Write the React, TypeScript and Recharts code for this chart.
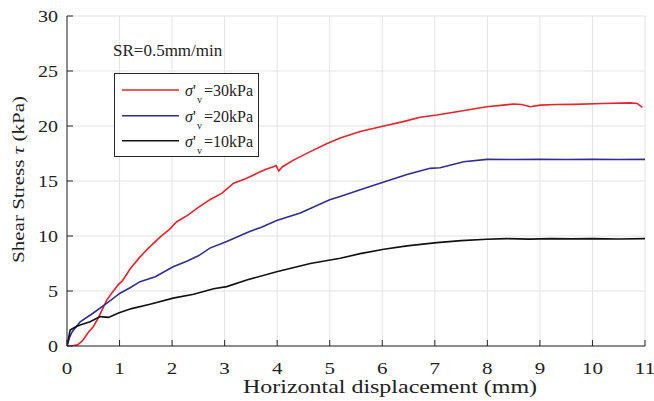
import { LineChart, Line, XAxis, YAxis, CartesianGrid } from "recharts";

// horizontal displacement (mm) vs shear stress (kPa)
const sigma30 = [
  [0, 0], [0.1, 0.02], [0.2, 0.1], [0.3, 0.5], [0.4, 1.2], [0.5, 1.75], [0.6, 2.6],
  [0.7, 3.6], [0.76, 4.2], [0.85, 4.8], [0.98, 5.6], [1.05, 5.9], [1.2, 7.0],
  [1.39, 8.1], [1.55, 8.9], [1.77, 9.9], [1.95, 10.6], [2.09, 11.3], [2.3, 11.9],
  [2.5, 12.6], [2.72, 13.3], [2.95, 13.9], [3.17, 14.8], [3.4, 15.2], [3.68, 15.85],
  [3.8, 16.1], [3.93, 16.3], [3.98, 16.4], [4.03, 15.9], [4.1, 16.3], [4.31, 16.9],
  [4.6, 17.6], [4.95, 18.4], [5.2, 18.9], [5.58, 19.5], [6.03, 20.0], [6.4, 20.4],
  [6.72, 20.8], [7.04, 21.0], [7.42, 21.3], [7.99, 21.75], [8.3, 21.9], [8.5, 22.0],
  [8.65, 21.95], [8.82, 21.75], [9.01, 21.9], [9.3, 21.95], [9.64, 21.97],
  [10.2, 22.05], [10.72, 22.1], [10.85, 22.05], [10.95, 21.7],
];
const sigma20 = [
  [0, 0], [0.05, 0.8], [0.1, 1.3], [0.25, 2.2], [0.5, 3.0], [0.76, 3.9], [1.01, 4.8],
  [1.2, 5.3], [1.39, 5.85], [1.68, 6.3], [2.02, 7.2], [2.28, 7.7], [2.5, 8.2],
  [2.72, 8.9], [3.04, 9.5], [3.42, 10.3], [3.7, 10.8], [3.99, 11.4], [4.44, 12.1],
  [5.0, 13.3], [5.2, 13.6], [5.58, 14.2], [6.03, 14.9], [6.47, 15.6], [6.91, 16.15],
  [7.1, 16.2], [7.55, 16.75], [7.99, 16.97], [8.5, 16.95], [9, 16.97], [9.5, 16.95],
  [10, 16.97], [10.5, 16.95], [11, 16.97],
];
const sigma10 = [
  [0, 0], [0.06, 1.45], [0.15, 1.7], [0.25, 1.9], [0.44, 2.2], [0.63, 2.67],
  [0.79, 2.6], [0.98, 3.0], [1.23, 3.4], [1.58, 3.8], [2.02, 4.35], [2.41, 4.7],
  [2.79, 5.2], [3.04, 5.4], [3.42, 6.0], [3.99, 6.75], [4.63, 7.5], [5.2, 7.97],
  [5.58, 8.4], [6.03, 8.8], [6.47, 9.1], [7.04, 9.4], [7.5, 9.58], [7.99, 9.7],
  [8.37, 9.76], [8.8, 9.72], [9.2, 9.76], [9.6, 9.74], [10.0, 9.76], [10.5, 9.73],
  [11, 9.76],
];

const xTicks = [0, 1, 2, 3, 4, 5, 6, 7, 8, 9, 10, 11];
const yTicks = [0, 5, 10, 15, 20, 25, 30];

const series = [
  { name: "30kPa", color: "#e8222a", points: sigma30 },
  { name: "20kPa", color: "#2e2e96", points: sigma20 },
  { name: "10kPa", color: "#111111", points: sigma10 },
];

const FONT = "Liberation Serif";
const AXIS = "#262626";
const TEXT = "#222";

const toRows = (pts: number[][]) => pts.map(([x, y]) => ({ x, y }));

// axis text in the figure is drawn wider than plain Times, so stretch it a bit
function XTick(props: any) {
  const s = String(props.payload.value);
  return (
    <text x={props.x} y={props.y} dy={12} textAnchor="middle" fontSize={17} fill={TEXT}
      textLength={s.length * 10.5} lengthAdjust="spacingAndGlyphs" style={{ fontFamily: FONT }}>
      {s}
    </text>
  );
}

function YTick(props: any) {
  const s = String(props.payload.value);
  return (
    <text x={props.x} y={props.y} dy={6} textAnchor="end" fontSize={17} fill={TEXT}
      textLength={s.length * 10} lengthAdjust="spacingAndGlyphs" style={{ fontFamily: FONT }}>
      {s}
    </text>
  );
}

function YTitle(props: any) {
  const vb = props.viewBox || { x: 0, y: 16, width: 67, height: 330 };
  const cx = vb.x + 18;
  const cy = vb.y + vb.height / 2 - 1.5;
  return (
    <text
      x={cx}
      y={cy}
      transform={`rotate(-90, ${cx}, ${cy})`}
      textAnchor="middle"
      dominantBaseline="central"
      fontSize={16}
      fill={TEXT}
      textLength={167}
      lengthAdjust="spacingAndGlyphs"
      style={{ fontFamily: FONT }}
    >
      Shear Stress <tspan fontStyle="italic">τ</tspan> (kPa)
    </text>
  );
}

function XTitle() {
  return (
    <text
      x={390}
      y={393}
      textAnchor="middle"
      fontSize={18}
      fill={TEXT}
      textLength={294}
      lengthAdjust="spacingAndGlyphs"
      style={{ fontFamily: FONT }}
    >
      Horizontal displacement (mm)
    </text>
  );
}

function LegendBox() {
  const rowY = [90, 115.7, 140.7];
  return (
    <svg
      width={654}
      height={401}
      style={{ position: "absolute", left: 0, top: 0, pointerEvents: "none", fontFamily: FONT }}
    >
      <text x={113} y={56} fontSize={17} fill={TEXT}>
        SR=0.5mm/min
      </text>
      <rect x={114.5} y={73.5} width={144} height={83} fill="#fff" stroke={AXIS} strokeWidth={1} />
      {series.map((s, i) => (
        <g key={s.name}>
          <line x1={122} x2={179} y1={rowY[i]} y2={rowY[i]} stroke={s.color} strokeWidth={1.6} />
          <text x={185} y={rowY[i] + 6} fontSize={16} fill={TEXT}>
            <tspan fontStyle="italic">σ</tspan>
            <tspan>'</tspan>
            <tspan x={197} dy={7} fontSize={10}>v</tspan>
            <tspan x={204} dy={-7}>={s.name}</tspan>
          </text>
        </g>
      ))}
    </svg>
  );
}

export default function App() {
  return (
    <div style={{ position: "absolute", left: 0, top: 0, width: 654, height: 401, background: "#fff", fontFamily: FONT }}>
      <LineChart width={654} height={401} margin={{ top: 16, right: 9, bottom: 0, left: 0 }}>
        <CartesianGrid stroke="#e3e3e3" strokeWidth={1} />
        <XAxis
          xAxisId={0}
          dataKey="x"
          type="number"
          domain={[0, 11]}
          ticks={xTicks}
          interval={0}
          height={55}
          stroke={AXIS}
          tickSize={-6}
          tickMargin={22}
          tick={<XTick />}
          allowDataOverflow
          label={<XTitle />}
        />
        <XAxis
          xAxisId="top"
          orientation="top"
          type="number"
          domain={[0, 11]}
          ticks={xTicks}
          height={0}
          stroke={AXIS}
          tickSize={-6}
          tick={false}
          allowDataOverflow
        />
        <YAxis
          yAxisId={0}
          type="number"
          domain={[0, 30]}
          ticks={yTicks}
          interval={0}
          width={67}
          stroke={AXIS}
          tickSize={-6}
          tickMargin={15}
          tick={<YTick />}
          allowDataOverflow
          label={<YTitle />}
        />
        <YAxis
          yAxisId="right"
          orientation="right"
          type="number"
          domain={[0, 30]}
          ticks={yTicks}
          width={0}
          stroke={AXIS}
          tickSize={-6}
          tick={false}
          allowDataOverflow
        />
        {series.map((s) => (
          <Line
            key={s.name}
            data={toRows(s.points)}
            dataKey="y"
            name={s.name}
            type="linear"
            stroke={s.color}
            strokeWidth={1.6}
            dot={false}
            activeDot={false}
            isAnimationActive={false}
          />
        ))}
      </LineChart>
      <LegendBox />
    </div>
  );
}
